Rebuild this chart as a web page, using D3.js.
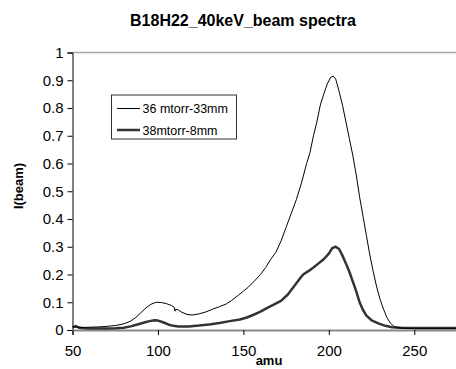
<!DOCTYPE html>
<html>
<head>
<meta charset="utf-8">
<script src="https://cdn.jsdelivr.net/npm/d3@7"></script>
<style>
  body { margin: 0; background: #fff; }
  svg { display: block; font-family: "Liberation Sans", Arial, sans-serif; }
</style>
</head>
<body>
<div class="chart"></div>
<script>
"use strict";

// amu values and beam intensity for each series
var thinAmu = [50, 53, 56, 60, 65, 70, 75, 80, 84, 87, 90, 93, 96, 99, 102, 105, 108, 109.5, 110, 110.5, 112, 114, 117, 120, 124, 128, 132, 136, 140, 143, 147, 150, 153, 157, 160, 163, 166, 169, 172, 175, 178, 181, 184, 187, 189, 191, 193, 195, 197, 199, 201, 202.5, 204, 206, 208, 210, 212, 214, 216, 218, 220, 222, 224, 226, 228, 230, 232, 234, 236, 238, 240, 245, 250, 260, 275];
var thinI = [0.012, 0.010, 0.009, 0.010, 0.011, 0.013, 0.016, 0.022, 0.032, 0.045, 0.062, 0.080, 0.093, 0.100, 0.099, 0.095, 0.088, 0.082, 0.068, 0.075, 0.072, 0.064, 0.056, 0.054, 0.058, 0.065, 0.075, 0.084, 0.094, 0.106, 0.125, 0.140, 0.155, 0.180, 0.200, 0.225, 0.255, 0.280, 0.320, 0.370, 0.420, 0.470, 0.530, 0.600, 0.640, 0.700, 0.750, 0.810, 0.850, 0.885, 0.910, 0.915, 0.905, 0.860, 0.810, 0.750, 0.690, 0.630, 0.560, 0.480, 0.410, 0.340, 0.270, 0.210, 0.155, 0.110, 0.075, 0.045, 0.025, 0.014, 0.008, 0.006, 0.005, 0.005, 0.005];

var thickAmu = [50, 52, 54, 57, 60, 65, 70, 75, 80, 84, 88, 92, 95, 98, 100, 103, 106, 109, 112, 118, 124, 130, 136, 142, 148, 152, 156, 160, 164, 168, 172, 176, 180, 183, 185, 188, 191, 194, 197, 200, 202, 204, 206, 208, 210, 212, 214, 216, 218, 220, 222, 225, 229, 233, 237, 242, 250, 275];
var thickI = [0.010, 0.014, 0.008, 0.006, 0.005, 0.005, 0.005, 0.006, 0.008, 0.013, 0.020, 0.027, 0.032, 0.035, 0.034, 0.028, 0.020, 0.015, 0.013, 0.013, 0.016, 0.020, 0.025, 0.032, 0.038, 0.045, 0.055, 0.066, 0.080, 0.092, 0.105, 0.128, 0.160, 0.185, 0.200, 0.212, 0.225, 0.240, 0.255, 0.275, 0.295, 0.300, 0.292, 0.268, 0.240, 0.210, 0.175, 0.140, 0.100, 0.072, 0.052, 0.035, 0.024, 0.015, 0.010, 0.008, 0.007, 0.007];

var seriesNames = ["36 mtorr-33mm", "38mtorr-8mm"];
var xTicks = [50, 100, 150, 200, 250];
var yTicks = [0, 0.1, 0.2, 0.3, 0.4, 0.5, 0.6, 0.7, 0.8, 0.9, 1];
var yTickLabels = ["0", "0.1", "0.2", "0.3", "0.4", "0.5", "0.6", "0.7", "0.8", "0.9", "1"];

var width = 456, height = 369;
var plot = { left: 72.5, right: 457, top: 52.5, bottom: 330 };

var svg = d3.select(".chart").append("svg")
    .attr("width", width)
    .attr("height", height);

var x = d3.scaleLinear().domain([50, 275]).range([plot.left, plot.right]);
var y = d3.scaleLinear().domain([0, 1]).range([plot.bottom, plot.top]);

// top border of plot area
svg.append("line")
    .attr("x1", plot.left).attr("x2", width)
    .attr("y1", y(1)).attr("y2", y(1))
    .attr("stroke", "#a8a8a8")
    .attr("stroke-width", 1.5);

// y axis
var yAxis = d3.axisLeft(y)
    .tickValues(yTicks)
    .tickFormat(function(d, i) { return yTickLabels[i]; })
    .tickSize(5)
    .tickPadding(4);

var yg = svg.append("g")
    .attr("transform", "translate(" + plot.left + ",0)")
    .call(yAxis);
yg.select(".domain").attr("stroke", "#000");
yg.selectAll("text").attr("font-size", "15px").attr("font-family", "Liberation Sans, Arial, sans-serif").attr("fill", "#000");

// x axis
var xAxis = d3.axisBottom(x)
    .tickValues(xTicks)
    .tickSize(5)
    .tickPadding(10);

var xg = svg.append("g")
    .attr("transform", "translate(0," + plot.bottom + ")")
    .call(xAxis);
xg.select(".domain").attr("stroke", "#888").attr("stroke-width", 2);
xg.selectAll("text").attr("font-size", "15px").attr("font-family", "Liberation Sans, Arial, sans-serif").attr("fill", "#000");

// series lines
var line = d3.line()
    .x(function(d) { return x(d[0]); })
    .y(function(d) { return y(d[1]); });

var thinData = d3.zip(thinAmu, thinI);
var thickData = d3.zip(thickAmu, thickI);

svg.append("path")
    .datum(thickData)
    .attr("d", line)
    .attr("fill", "none")
    .attr("stroke", "#333")
    .attr("stroke-width", 2.5)
    .attr("stroke-linejoin", "round");

svg.append("path")
    .datum(thinData)
    .attr("d", line)
    .attr("fill", "none")
    .attr("stroke", "#000")
    .attr("stroke-width", 1)
    .attr("stroke-linejoin", "round");

// title and axis labels
svg.append("text")
    .attr("x", 243).attr("y", 26)
    .attr("text-anchor", "middle")
    .attr("font-size", "16px")
    .attr("font-weight", "bold")
    .text("B18H22_40keV_beam spectra");

svg.append("text")
    .attr("x", 269).attr("y", 365)
    .attr("text-anchor", "middle")
    .attr("font-size", "13px")
    .attr("font-weight", "bold")
    .text("amu");

svg.append("text")
    .attr("transform", "translate(23,186) rotate(-90)")
    .attr("text-anchor", "middle")
    .attr("font-size", "13px")
    .attr("font-weight", "bold")
    .text("I(beam)");

// legend
var legend = svg.append("g");
legend.append("rect")
    .attr("x", 111.5).attr("y", 95)
    .attr("width", 125).attr("height", 44)
    .attr("fill", "#fff")
    .attr("stroke", "#333")
    .attr("stroke-width", 1);

var legendWidths = [1, 2.5];
var legendColors = ["#000", "#333"];
seriesNames.forEach(function(name, i) {
    var ly = 108.5 + i * 21.5;
    legend.append("line")
        .attr("x1", 117).attr("x2", 140)
        .attr("y1", ly).attr("y2", ly)
        .attr("stroke", legendColors[i])
        .attr("stroke-width", legendWidths[i]);
    legend.append("text")
        .attr("x", 142.5).attr("y", ly + 4.5)
        .attr("font-size", "12.5px")
        .text(name);
});
</script>
</body>
</html>
